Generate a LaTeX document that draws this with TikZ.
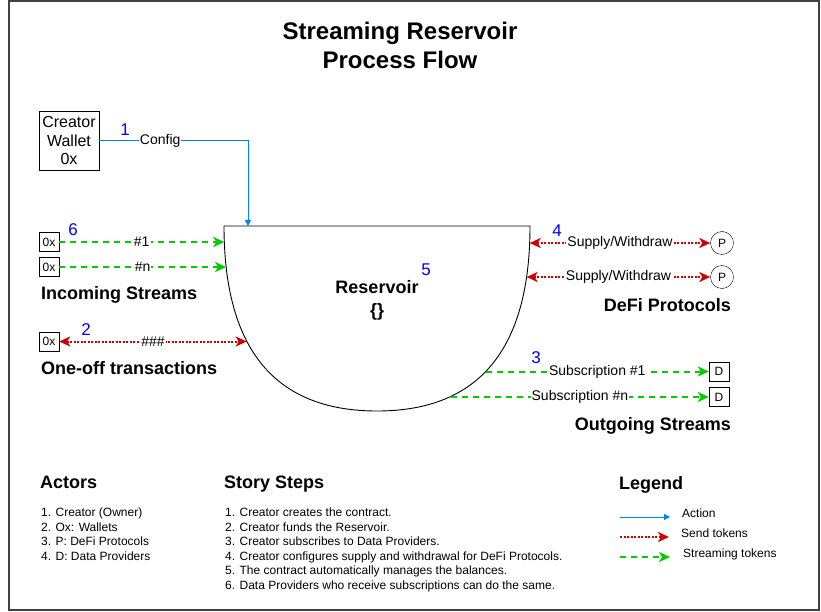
\documentclass[tikz,border=0pt]{standalone}
\usepackage{fontspec}
\setmainfont{Liberation Sans}
\usetikzlibrary{arrows.meta}
\definecolor{numblue}{RGB}{0,0,255}
\definecolor{actblue}{RGB}{0,127,255}
\definecolor{sendred}{RGB}{204,0,0}
\definecolor{streamgreen}{RGB}{0,204,0}
\begin{document}
\begin{tikzpicture}[x=1pt,y=-1pt,
  lab/.style={fill=white, inner sep=1pt, font=\fontsize{14}{16}\selectfont},
  num/.style={text=numblue, inner sep=0pt, font=\fontsize{17}{20}\selectfont},
  head/.style={inner sep=0pt, font=\bfseries\fontsize{18}{23}\selectfont},
  item/.style={inner sep=0pt, font=\fontsize{12}{14.6}\selectfont},
  smallbox/.style={draw, minimum width=20pt, minimum height=19pt, inner sep=0pt, font=\fontsize{12}{14}\selectfont},
  pcirc/.style={draw, circle, minimum size=23pt, inner sep=0pt, font=\fontsize{12}{14}\selectfont},
  action/.style={draw=actblue, line width=1pt, -{Triangle[length=6pt,width=6pt]}},
  send/.style={draw=sendred, line width=2pt, dash pattern=on 2pt off 1.5pt},
  sendtip/.style={{Stealth[length=11pt,width=10pt,inset=3pt]}-{Stealth[length=11pt,width=10pt,inset=3pt]}},
  stream/.style={draw=streamgreen, line width=2pt, dash pattern=on 6pt off 5pt, -{Stealth[length=11pt,width=10pt,inset=3pt]}},
  res/.style={draw=black, line width=0.9pt, fill=white}
]
\useasboundingbox (0,0) rectangle (821,612);
\draw[line width=2pt, black!75] (9,1) rectangle (819,610);

% title
\node[inner sep=0pt, anchor=base, font=\bfseries\fontsize{24}{29}\selectfont] (title1) at (400,40) {Streaming Reservoir};
\node[inner sep=0pt, anchor=base, font=\bfseries\fontsize{24}{29}\selectfont] (title2) at (400,69) {Process Flow};

% reservoir
\draw[res] (224,226) .. controls (224,349.33) and (275,411) .. (377,411)
  .. controls (479,411) and (530,349.33) .. (530,226) -- cycle;
\node[head, align=center] (resv) at (377,300) {Reservoir\\\{\}};
\node[num] (n5) at (426,270) {5};

\coordinate (rblue) at (248,226);
\coordinate (rin1) at (224.3,242);
\coordinate (rin2) at (226.1,267);
\coordinate (rone) at (246.7,341.5);
\coordinate (rp1) at (529.7,243);
\coordinate (rp2) at (526.6,277);
\coordinate (rs1) at (485.7,371.5);
\coordinate (rs2) at (451,397);

% creator wallet
\node[draw, minimum width=60pt, minimum height=59pt, inner sep=0pt, align=center,
  font=\fontsize{16}{18.5}\selectfont] (wallet) at (69,140.5) {Creator\\Wallet\\0x};
\node[num] (n1) at (125,130) {1};
\draw[action] (wallet.east) -| node[lab, pos=0.205] (config) {Config} (rblue);

% incoming streams
\node[smallbox] (in1) at (49,242) {0x};
\node[smallbox] (in2) at (49,267) {0x};
\node[num] (n6) at (73,230) {6};
\draw[stream] (in1.east) -- node[lab] (l1) {\#1} (rin1);
\draw[stream] (in2.east) -- node[lab] (ln) {\#n} (rin2);
\node[head, anchor=base west] (hin) at (41,299.5) {Incoming Streams};

% one-off
\node[smallbox] (one) at (49,341.5) {0x};
\node[num] (n2) at (86,330) {2};
\draw[send, sendtip] (one.east) -- node[lab] (lone) {\#\#\#} (rone);
\node[head, anchor=base west] (hone) at (41,374) {One-off transactions};

% DeFi
\node[pcirc] (p1) at (722,243) {P};
\node[pcirc] (p2) at (722,277) {P};
\node[num] (n4) at (557,230.5) {4};
\draw[send, sendtip] (rp1) -- node[lab] (lp1) {Supply/Withdraw} (p1.west);
\draw[send, sendtip] (rp2) -- node[lab] (lp2) {Supply/Withdraw} (p2.west);
\node[head, anchor=base east] (hdefi) at (731,311) {DeFi Protocols};

% outgoing
\node[smallbox] (d1) at (719,371.5) {D};
\node[smallbox] (d2) at (719,397) {D};
\node[num] (n3) at (536,358) {3};
\draw[stream] (rs1) -- node[lab] (ls1) {Subscription \#1} (d1.west);
\draw[stream] (rs2) -- node[lab] (ls2) {Subscription \#n} (d2.west);
\node[head, anchor=base east] (hout) at (731,430.5) {Outgoing Streams};

% actors
\node[head, anchor=base west] (hact) at (40,488.5) {Actors};
\foreach \t [count=\i] in {{1. Creator (Owner)},{2. Ox: Wallets},{3. P: DeFi Protocols},{4. D: Data Providers}}
  \node[item, anchor=base west] (act\i) at (41,{501.9+14.6*\i}) {\t};

% story steps
\node[head, anchor=base west] (hstory) at (224,488.5) {Story Steps};
\foreach \t [count=\i] in {{1. Creator creates the contract.},{2. Creator funds the Reservoir.},{3. Creator subscribes to Data Providers.},{4. Creator configures supply and withdrawal for DeFi Protocols.},{5. The contract automatically manages the balances.},{6. Data Providers who receive subscriptions can do the same.}}
  \node[item, anchor=base west] (st\i) at (225,{501.9+14.6*\i}) {\t};

% legend
\node[head, anchor=base west] (hleg) at (619,489.5) {Legend};
\coordinate (la1) at (620,517);
\coordinate (la2) at (670,517);
\coordinate (ls1s) at (620,537);
\coordinate (ls2s) at (669,537);
\coordinate (lg1) at (620,557);
\coordinate (lg2) at (670,557);
\draw[action] (la1) -- (la2);
\draw[send, -{Stealth[length=11pt,width=10pt,inset=3pt]}] (ls1s) -- (ls2s);
\draw[stream] (lg1) -- (lg2);
\node[item, anchor=base west] (tact) at (682,517) {Action};
\node[item, anchor=base west] (tsend) at (681,537) {Send tokens};
\node[item, anchor=base west] (tstream) at (683,557) {Streaming tokens};
\end{tikzpicture}
\end{document}
